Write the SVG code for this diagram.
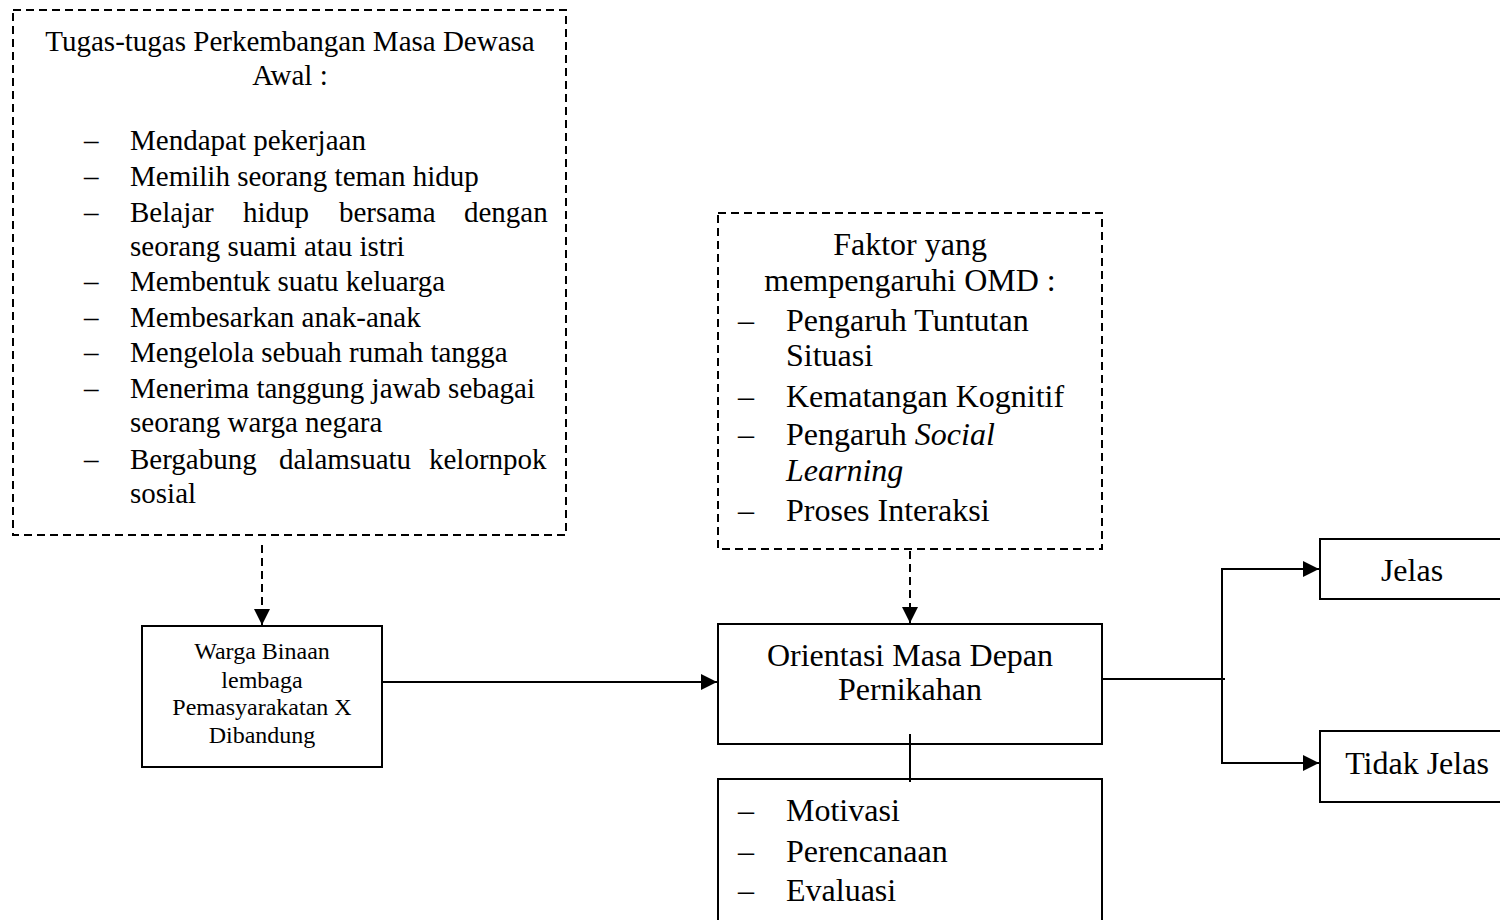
<svg xmlns="http://www.w3.org/2000/svg" width="1500" height="920" viewBox="0 0 1500 920">
<style>
text{font-family:"Liberation Serif","Times New Roman",serif;fill:#000}
.t29{font-size:29px}
.t24{font-size:24px}
.t32{font-size:32px}
.c{text-anchor:middle}
.box{fill:#fff;stroke:#000;stroke-width:2}
.dbox{fill:#fff;stroke:#000;stroke-width:2;stroke-dasharray:8 5}
.ln{fill:none;stroke:#000;stroke-width:2}
.dln{fill:none;stroke:#000;stroke-width:2;stroke-dasharray:8 5}
</style>
<defs>
<marker id="ahb" viewBox="0 0 16 16" refX="16" refY="8" markerWidth="16" markerHeight="16" markerUnits="userSpaceOnUse" orient="auto">
<path d="M0,0 L16,8 L0,16 z" fill="#000"/>
</marker>
</defs>
<rect width="1500" height="920" fill="#fff"/>

<g id="tugas">
<rect class="dbox" x="13" y="10" width="553" height="525"/>
<text class="t29 c" x="290" y="51">Tugas-tugas Perkembangan Masa Dewasa</text>
<text class="t29 c" x="290" y="85">Awal :</text>
<g class="t29">
<text x="84" y="150">–</text><text x="130" y="150">Mendapat pekerjaan</text>
<text x="84" y="186">–</text><text x="130" y="186">Memilih seorang teman hidup</text>
<text x="84" y="222">–</text><text y="222"><tspan x="130">Belajar</tspan> <tspan x="243">hidup</tspan> <tspan x="339">bersama</tspan> <tspan x="464">dengan</tspan></text>
<text x="130" y="256">seorang suami atau istri</text>
<text x="84" y="291">–</text><text x="130" y="291">Membentuk suatu keluarga</text>
<text x="84" y="327">–</text><text x="130" y="327">Membesarkan anak-anak</text>
<text x="84" y="362">–</text><text x="130" y="362">Mengelola sebuah rumah tangga</text>
<text x="84" y="398">–</text><text x="130" y="398">Menerima tanggung jawab sebagai</text>
<text x="130" y="432">seorang warga negara</text>
<text x="84" y="469">–</text><text y="469"><tspan x="130">Bergabung</tspan> <tspan x="279">dalamsuatu</tspan> <tspan x="429">kelornpok</tspan></text>
<text x="130" y="503">sosial</text>
</g>
</g>

<g id="warga">
<rect class="box" x="142" y="626" width="240" height="141"/>
<g class="t24 c">
<text x="262" y="659">Warga Binaan</text>
<text x="262" y="688">lembaga</text>
<text x="262" y="715">Pemasyarakatan X</text>
<text x="262" y="743">Dibandung</text>
</g>
</g>

<g id="faktor">
<rect class="dbox" x="718" y="213" width="384" height="336"/>
<g class="t32">
<text class="c" x="910" y="255">Faktor yang</text>
<text class="c" x="910" y="291">mempengaruhi OMD :</text>
<text x="738" y="331">–</text><text x="786" y="331">Pengaruh Tuntutan</text>
<text x="786" y="366">Situasi</text>
<text x="738" y="407">–</text><text x="786" y="407">Kematangan Kognitif</text>
<text x="738" y="445">–</text><text x="786" y="445">Pengaruh <tspan font-style="italic">Social</tspan></text>
<text x="786" y="481" font-style="italic">Learning</text>
<text x="738" y="521">–</text><text x="786" y="521">Proses Interaksi</text>
</g>
</g>

<g id="orientasi">
<rect class="box" x="718" y="624" width="384" height="120"/>
<g class="t32 c">
<text x="910" y="666">Orientasi Masa Depan</text>
<text x="910" y="700">Pernikahan</text>
</g>
</g>

<g id="aspek">
<rect class="box" x="718" y="779" width="384" height="160"/>
<g class="t32">
<text x="738" y="821">–</text><text x="786" y="821">Motivasi</text>
<text x="738" y="862">–</text><text x="786" y="862">Perencanaan</text>
<text x="738" y="901">–</text><text x="786" y="901">Evaluasi</text>
</g>
</g>

<g id="jelas">
<rect class="box" x="1320" y="539" width="200" height="60"/>
<text class="t32 c" x="1412" y="581">Jelas</text>
</g>

<g id="tidakjelas">
<rect class="box" x="1320" y="731" width="200" height="71"/>
<text class="t32 c" x="1417" y="774">Tidak Jelas</text>
</g>

<g id="connectors">
<line class="dln" x1="262" y1="545" x2="262" y2="625" marker-end="url(#ahb)"/>
<line class="dln" x1="910" y1="551" x2="910" y2="623" marker-end="url(#ahb)"/>
<line class="ln" x1="382" y1="682" x2="717" y2="682" marker-end="url(#ahb)"/>
<line class="ln" x1="910" y1="734" x2="910" y2="782"/>
<line class="ln" x1="1102" y1="679" x2="1225" y2="679"/>
<line class="ln" x1="1222" y1="568" x2="1222" y2="764"/>
<line class="ln" x1="1221" y1="569" x2="1319" y2="569" marker-end="url(#ahb)"/>
<line class="ln" x1="1221" y1="763" x2="1319" y2="763" marker-end="url(#ahb)"/>
</g>
</svg>
